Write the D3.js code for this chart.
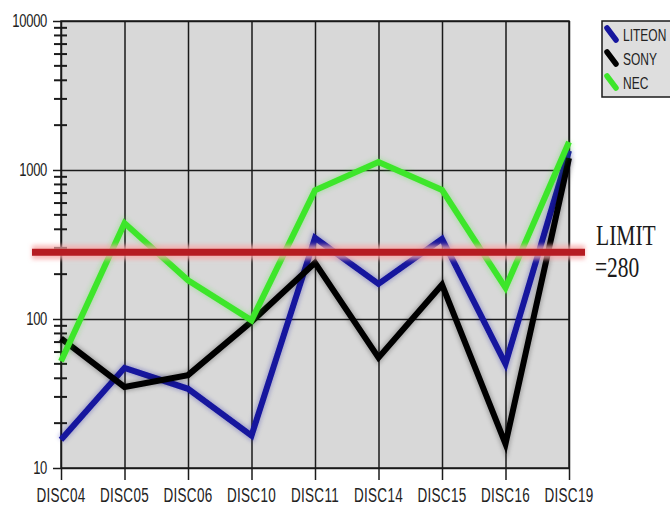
<!DOCTYPE html>
<html>
<head>
<meta charset="utf-8">
<script src="https://cdn.jsdelivr.net/npm/d3@7/dist/d3.min.js"></script>
<style>
  html, body { margin: 0; padding: 0; background: #fff; }
  svg { display: block; }
</style>
</head>
<body>
<svg id="chart" width="670" height="506"></svg>
<script>
// Disc error counts per drive, log scale
const discs = ["DISC04", "DISC05", "DISC06", "DISC10", "DISC11", "DISC14", "DISC15", "DISC16", "DISC19"];
const liteon = [15.5, 47, 34, 16.5, 350, 172, 345, 50, 1350];
const sony   = [74, 35, 42, 96, 238, 55, 170, 14.5, 1200];
const nec    = [52, 440, 182, 98, 730, 1130, 735, 162, 1540];
const seriesNames = ["LITEON", "SONY", "NEC"];
const seriesColors = ["#14149e", "#000000", "#3ee62a"];
const limitValue = 280;
const majorTicks = [10, 100, 1000, 10000];
const majorLabels = ["10", "100", "1000", "10000"];

(function () {
const W = 670, H = 506;
const svg = d3.select("#chart");
const pLeft = 61, pRight = 569, pTop = 21, pBottom = 468;

const x = d3.scalePoint().domain(discs).range([pLeft, pRight]);
const y = d3.scaleLog().domain([10, 10000]).range([pBottom, pTop]);

const defs = svg.append("defs");
function blurFilter(id, sd) {
  defs.append("filter").attr("id", id)
    .attr("filterUnits", "userSpaceOnUse")
    .attr("x", 0).attr("y", 0).attr("width", W).attr("height", H)
    .append("feGaussianBlur").attr("stdDeviation", sd);
}
blurFilter("soft", 0.6);
blurFilter("halo", 2.2);

// plot background
svg.append("rect")
  .attr("x", pLeft).attr("y", pTop)
  .attr("width", pRight - pLeft).attr("height", pBottom - pTop)
  .attr("fill", "#d8d8d8");

const ink = "#1a1a1a";

// vertical grid at each disc
svg.append("g").attr("transform", `translate(0,${pBottom})`)
  .call(d3.axisBottom(x).tickSize(-(pBottom - pTop)).tickFormat(""))
  .call(g => g.select(".domain").remove())
  .call(g => g.selectAll("line").attr("stroke", ink).attr("stroke-width", 1.5));

// x tick marks below the axis
svg.append("g").attr("transform", `translate(0,${pBottom})`)
  .call(d3.axisBottom(x).tickSize(12).tickFormat(""))
  .call(g => g.select(".domain").remove())
  .call(g => g.selectAll("line").attr("stroke", ink).attr("stroke-width", 1.5));

// horizontal grid at each decade
svg.append("g").attr("transform", `translate(${pLeft},0)`)
  .call(d3.axisLeft(y).tickValues(majorTicks).tickSize(-(pRight - pLeft)).tickFormat(""))
  .call(g => g.select(".domain").remove())
  .call(g => g.selectAll("line").attr("stroke", ink).attr("stroke-width", 1.5));

// major y ticks left of the axis
svg.append("g").attr("transform", `translate(${pLeft},0)`)
  .call(d3.axisLeft(y).tickValues(majorTicks).tickSize(8).tickFormat(""))
  .call(g => g.select(".domain").remove())
  .call(g => g.selectAll("line").attr("stroke", ink).attr("stroke-width", 1.5));

// minor y ticks crossing the axis
const minorTicks = [];
for (const d of [10, 100, 1000]) for (let k = 2; k <= 9; k++) minorTicks.push(d * k);
svg.append("g").selectAll("line").data(minorTicks).join("line")
  .attr("x1", pLeft - 7).attr("x2", pLeft + 6)
  .attr("y1", d => y(d)).attr("y2", d => y(d))
  .attr("stroke", ink).attr("stroke-width", 2);

// frame
svg.append("rect")
  .attr("x", pLeft).attr("y", pTop)
  .attr("width", pRight - pLeft).attr("height", pBottom - pTop)
  .attr("fill", "none").attr("stroke", ink).attr("stroke-width", 1.5);

// y labels
svg.append("g").selectAll("text").data(majorTicks).join("text")
  .attr("transform", d => `translate(47,${y(d) + 6}) scale(1,1.35)`)
  .attr("text-anchor", "end")
  .attr("font-family", "Liberation Sans, Arial, sans-serif")
  .attr("font-size", 13)
  .attr("letter-spacing", "-0.3")
  .attr("fill", "#222")
  .text((d, i) => majorLabels[i]);

// x labels
svg.append("g").selectAll("text").data(discs).join("text")
  .attr("transform", d => `translate(${x(d)},502) scale(1,1.45)`)
  .attr("text-anchor", "middle")
  .attr("font-family", "Liberation Sans, Arial, sans-serif")
  .attr("font-size", 13.5)
  .attr("letter-spacing", "0.3")
  .attr("fill", "#222")
  .text(d => d);

// series lines
const line = d3.line().x((d, i) => x(discs[i])).y(d => y(d));
const allSeries = [liteon, sony, nec];
const lineGroup = svg.append("g");
allSeries.forEach((vals, i) => {
  lineGroup.append("path")
    .attr("d", line(vals))
    .attr("fill", "none")
    .attr("stroke", seriesColors[i])
    .attr("stroke-opacity", 0.25)
    .attr("stroke-width", 9)
    .attr("stroke-linejoin", "miter")
    .attr("filter", "url(#halo)");
  lineGroup.append("path")
    .attr("d", line(vals))
    .attr("fill", "none")
    .attr("stroke", seriesColors[i])
    .attr("stroke-width", 6)
    .attr("stroke-linejoin", "miter")
    .attr("filter", "url(#soft)");
});

// limit line
const yl = y(limitValue);
svg.append("line")
  .attr("x1", 32).attr("x2", 585).attr("y1", yl).attr("y2", yl)
  .attr("stroke", "#f7a8a8").attr("stroke-width", 14).attr("stroke-opacity", 0.8)
  .attr("filter", "url(#halo)");
svg.append("line")
  .attr("x1", 32).attr("x2", 585).attr("y1", yl).attr("y2", yl)
  .attr("stroke", "#b61e22").attr("stroke-width", 7)
  .attr("filter", "url(#soft)");

// limit label
const limitText = svg.append("g")
  .attr("font-family", "Liberation Serif, Times New Roman, serif")
  .attr("font-size", 21.5)
  .attr("fill", "#1a1a1a");
limitText.append("text").attr("transform", "translate(596,245) scale(1,1.4)").text("LIMIT");
limitText.append("text").attr("transform", "translate(595,277) scale(1,1.4)").text("=" + limitValue);

// legend
const lg = svg.append("g");
lg.append("rect")
  .attr("x", 602).attr("y", 21).attr("width", 90).attr("height", 76)
  .attr("fill", "#dedede").attr("stroke", ink).attr("stroke-width", 1.5);
seriesNames.forEach((name, i) => {
  const cy = 35 + i * 24;
  lg.append("line")
    .attr("x1", 607).attr("y1", cy - 7).attr("x2", 616).attr("y2", cy + 5)
    .attr("stroke", seriesColors[i]).attr("stroke-width", 5.5)
    .attr("stroke-linecap", "round")
    .attr("filter", "url(#soft)");
  lg.append("text")
    .attr("transform", `translate(623,${cy + 6}) scale(1,1.35)`)
    .attr("font-family", "Liberation Sans, Arial, sans-serif")
    .attr("font-size", 12)
    .attr("fill", "#222")
    .text(name);
});
})();
</script>
</body>
</html>
